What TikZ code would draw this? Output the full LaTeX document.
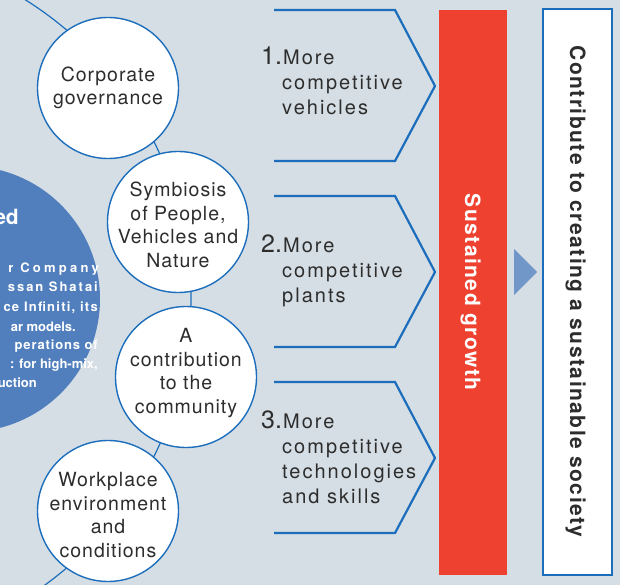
\documentclass[tikz,border=0pt]{standalone}
\usepackage{fontspec}
\setmainfont{TeX Gyre Heros}
\definecolor{bg}{RGB}{213,222,228}
\definecolor{lineblue}{RGB}{28,110,188}
\definecolor{bigblue}{RGB}{81,127,190}
\definecolor{redbar}{RGB}{239,65,48}
\definecolor{triblue}{RGB}{113,151,201}
\definecolor{textdark}{RGB}{45,45,45}
\newcommand\circfont{\fontsize{19.5}{23.5}\selectfont\addfontfeature{LetterSpace=5}}
\newcommand\chevfont{\fontsize{20}{25}\selectfont\addfontfeature{LetterSpace=10}}
\newcommand\numfont{\fontsize{25}{30}\selectfont}
\newcommand\vertfont{\fontsize{21}{25}\selectfont\bfseries\addfontfeature{LetterSpace=7}}
\newcommand\bigfont[1]{\fontsize{13}{15}\selectfont\bfseries\addfontfeature{LetterSpace=#1}}
\begin{document}
\begin{tikzpicture}[x=1pt,y=-1pt,
  circ/.style={circle, draw=lineblue, fill=white, line width=1.4pt, minimum size=141pt,
    inner sep=0pt},
  circtext/.style={inner sep=0pt, align=center, font=\circfont, text=textdark},
  chev/.style={draw=lineblue, line width=2.2pt},
  chevtext/.style={anchor=base west, inner sep=0pt, font=\chevfont, text=textdark},
  numtext/.style={anchor=base west, inner sep=0pt, font=\numfont, text=textdark},
  vert/.style={rotate=-90, anchor=base, inner sep=0pt, font=\vertfont},
  bigtext/.style={anchor=base east, inner sep=0pt, text=white},
  arcline/.style={draw=lineblue, line width=1.2pt}]
\useasboundingbox (0,0) rectangle (620,585);
\fill[bg] (0,0) rectangle (620,585);

% big blue circle with clipped text
\coordinate (bigC) at (-33,299);
\fill[bigblue] (bigC) circle[radius=133];
\node[bigtext, font=\fontsize{21}{25}\selectfont\bfseries] (b0) at (19,225) {ed};
\node[bigtext, font=\bigfont{25}] (b1) at (99,272) {r Company};
\node[bigtext, font=\bigfont{15}] (b2) at (98,291) {ssan Shatai};
\node[bigtext, font=\bigfont{9.5}] (b3) at (98,311) {ce Infiniti, its};
\node[bigtext, font=\bigfont{0}] (b4) at (76,331) {ar models.};
\node[bigtext, font=\bigfont{6.7}] (b5) at (98,349) {perations of};
\node[bigtext, font=\bigfont{0}] (b6) at (98,368) {: for high-mix,};
\node[bigtext, font=\bigfont{0}] (b7) at (37,387) {uction};

% arc linking the circles
\coordinate (arcC) at (-162,299);
\draw[arcline] (arcC) ++(-58:353) arc[start angle=-58, end angle=56, radius=353];

% circles
\node[circ] (c1) at (108,88) {};
\node[circ] (c2) at (178,222) {};
\node[circ] (c3) at (186,377) {};
\node[circ] (c4) at (108,511) {};
\node[circtext] (l1) at (108,88) {Corporate\\governance};
\node[circtext] (l2) at (178,225) {Symbiosis\\of People,\\Vehicles and\\Nature};
\node[circtext] (l3) at (186,373) {A\\contribution\\to the\\community};
\node[circtext] (l4) at (108,515) {Workplace\\environment\\and\\conditions};

% chevrons
\draw[chev] (274,10) -- (395,10) -- (435,86) -- (395,161) -- (274,161);
\draw[chev] (274,196) -- (395,196) -- (435,272) -- (395,347) -- (274,347);
\draw[chev] (274,382) -- (395,382) -- (435,458) -- (395,533) -- (274,533);

\node[numtext] (n1) at (261,65) {1.};
\node[chevtext] (t1a) at (283,65) {More};
\node[chevtext] (t1b) at (282,90) {competitive};
\node[chevtext] (t1c) at (282,115) {vehicles};

\node[numtext] (n2) at (261,252) {2.};
\node[chevtext] (t2a) at (283,252) {More};
\node[chevtext] (t2b) at (282,277) {competitive};
\node[chevtext] (t2c) at (282,302) {plants};

\node[numtext] (n3) at (261,428) {3.};
\node[chevtext] (t3a) at (283,428) {More};
\node[chevtext] (t3b) at (282,453) {competitive};
\node[chevtext] (t3c) at (282,478) {technologies};
\node[chevtext] (t3d) at (282,503) {and skills};

% red bar
\fill[redbar] (439,10) rectangle (507,575);
\node[vert, text=white] (sg) at (465,292) {Sustained growth};

% triangle
\fill[triblue] (514,249) -- (537,272) -- (514,295) -- cycle;

% white box
\draw[draw=lineblue, line width=2.6pt, fill=white] (543,9) rectangle (612,575);
\node[vert, text=textdark] (cs) at (570,291.5) {Contribute to creating a sustainable society};
\end{tikzpicture}
\end{document}
